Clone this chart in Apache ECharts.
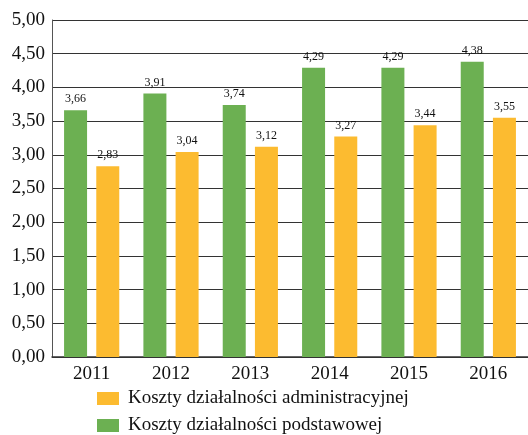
<!DOCTYPE html>
<html><head><meta charset="utf-8">
<script src="https://cdn.jsdelivr.net/npm/echarts@6/dist/echarts.min.js"></script>
<style>html,body{margin:0;padding:0;background:#fff}#c{width:528px;height:435px}</style>
</head><body><div id="c"></div>
<script>
var categories = ['2011','2012','2013','2014','2015','2016'];
var podstawowej = [3.66, 3.91, 3.74, 4.29, 4.29, 4.38];
var administracyjnej = [2.83, 3.04, 3.12, 3.27, 3.44, 3.55];
var nameAdm = 'Koszty działalności administracyjnej';
var namePod = 'Koszty działalności podstawowej';
var fmt = function(v){ return Number(v).toFixed(2).replace('.', ','); };
var font = '"Liberation Serif", "Times New Roman", serif';
function legText(){ return {fontFamily: font, fontSize: 19, color: '#111', padding: [0, 0, 0, 4]}; }
var chart = echarts.init(document.getElementById('c'));
chart.setOption({
  animation: false,
  textStyle: {fontFamily: font},
  grid: {left: 52, right: 0, top: 20, bottom: 78},
  legend: [
    {left: 97, top: 389, padding: 0, itemWidth: 22, itemHeight: 13, itemGap: 8, data: [nameAdm], textStyle: legText(), icon: 'rect'},
    {left: 97, top: 416, padding: 0, itemWidth: 22, itemHeight: 13, itemGap: 8, data: [namePod], textStyle: legText(), icon: 'rect'}
  ],
  xAxis: {
    type: 'category', data: categories,
    axisLine: {lineStyle: {color: '#333', width: 1.5}},
    axisTick: {show: false},
    axisLabel: {fontFamily: font, fontSize: 19, color: '#111', margin: 8}
  },
  yAxis: {
    type: 'value', min: 0, max: 5, interval: 0.5,
    axisLine: {show: true, lineStyle: {color: '#555', width: 1}},
    axisTick: {show: false},
    splitLine: {lineStyle: {color: '#333', width: 1}},
    axisLabel: {fontFamily: font, fontSize: 19, color: '#111', margin: 7, formatter: fmt}
  },
  series: [
    {name: namePod, type: 'bar', data: podstawowej, barWidth: 23, barGap: '40%',
     itemStyle: {color: '#6cb052'},
     label: {show: true, position: 'top', distance: 5, fontFamily: font, fontSize: 12, color: '#111', formatter: function(p){return fmt(p.value);}}},
    {name: nameAdm, type: 'bar', data: administracyjnej, barWidth: 23,
     itemStyle: {color: '#fcbb30'},
     label: {show: true, position: 'top', distance: 5, fontFamily: font, fontSize: 12, color: '#111', formatter: function(p){return fmt(p.value);}}}
  ]
});
</script></body></html>
